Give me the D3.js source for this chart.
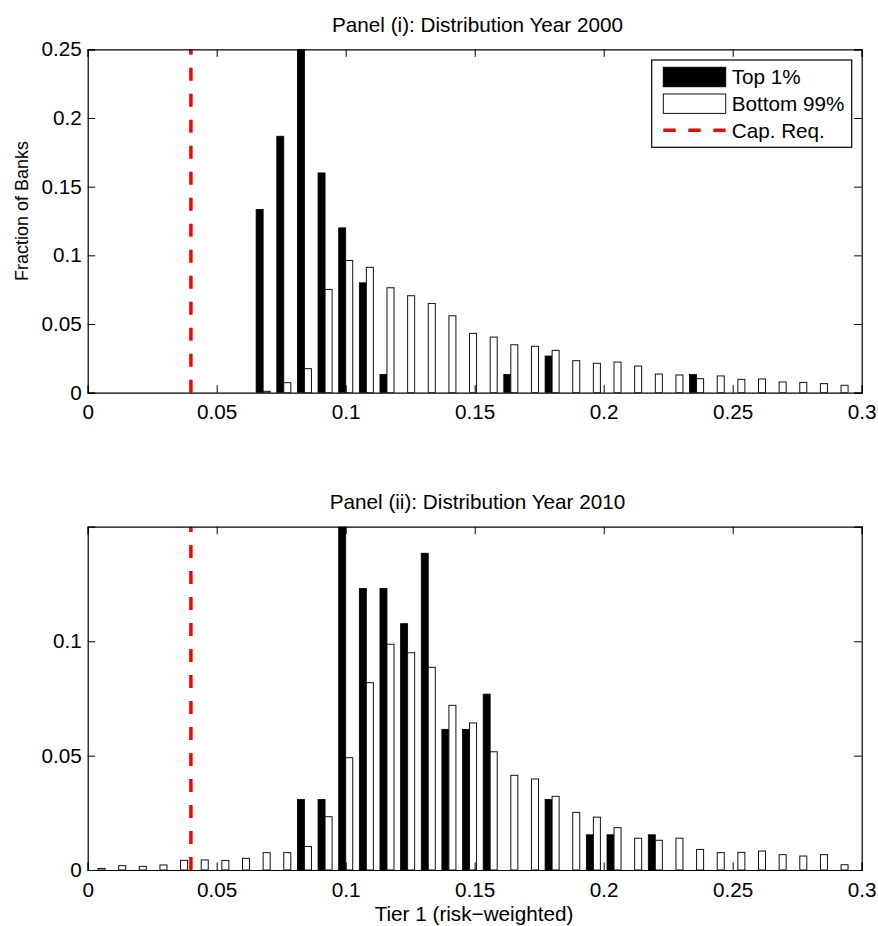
<!DOCTYPE html>
<html lang="en">
<head>
  <meta charset="UTF-8">
  <title>Tier 1 distribution</title>
  <script src="https://d3js.org/d3.v7.min.js"></script>
  <style>
    body { margin: 0; background: #fff; }
    text { font-family: "Liberation Sans", Arial, Helvetica, sans-serif; fill: #000; }
  </style>
</head>
<body>
  <svg id="chart" width="878" height="926"></svg>
  <script>
    // bin centres of the histogram (tier 1 ratio)
    var bins = [0.004, 0.012, 0.020, 0.028, 0.036, 0.044, 0.052, 0.060, 0.068, 0.076,
      0.084, 0.092, 0.100, 0.108, 0.116, 0.124, 0.132, 0.140, 0.148, 0.156,
      0.164, 0.172, 0.180, 0.188, 0.196, 0.204, 0.212, 0.220, 0.228, 0.236,
      0.244, 0.252, 0.260, 0.268, 0.276, 0.284, 0.292]

    var top2000 = [0, 0, 0, 0, 0, 0, 0, 0, 0.1333, 0.1867,
      0.2533, 0.16, 0.12, 0.08, 0.0133, 0, 0, 0, 0, 0,
      0.0133, 0, 0.0267, 0, 0, 0, 0, 0, 0, 0.0133,
      0, 0, 0, 0, 0, 0, 0]
    var bottom2000 = [0, 0, 0, 0, 0, 0, 0, 0, 0.001, 0.0073,
      0.0175, 0.0752, 0.0963, 0.0913, 0.0764, 0.0706, 0.0650, 0.0560, 0.0432, 0.0405,
      0.0349, 0.0338, 0.0308, 0.0233, 0.0214, 0.0223, 0.0194, 0.0136, 0.0129, 0.0102,
      0.0122, 0.0097, 0.0100, 0.0078, 0.0075, 0.0066, 0.0054]

    var top2010 = [0, 0, 0, 0, 0, 0, 0, 0, 0, 0,
      0.0308, 0.0308, 0.1692, 0.1231, 0.1231, 0.1077, 0.1385, 0.0615, 0.0615, 0.0769,
      0, 0, 0.0308, 0, 0.0154, 0.0154, 0, 0.0154, 0, 0,
      0, 0, 0, 0, 0, 0, 0]
    var bottom2010 = [0.0007, 0.0019, 0.0016, 0.0022, 0.0042, 0.0044, 0.0042, 0.0051, 0.0076, 0.0076,
      0.0103, 0.0233, 0.0491, 0.0819, 0.0987, 0.0950, 0.0886, 0.0720, 0.0643, 0.0517,
      0.0414, 0.0398, 0.0322, 0.0252, 0.0231, 0.0185, 0.0139, 0.0130, 0.0139, 0.0090,
      0.0076, 0.0077, 0.0083, 0.0067, 0.0061, 0.0067, 0.0023]

    var capReq = 0.04
    var xTicks = [0, 0.05, 0.1, 0.15, 0.2, 0.25, 0.3]
    var yTicks2000 = [0, 0.05, 0.1, 0.15, 0.2, 0.25]
    var yTicks2010 = [0, 0.05, 0.1]
    var legendLabels = ["Top 1%", "Bottom 99%", "Cap. Req."]

    var svg = d3.select("#chart")
    var left = 87.7, right = 861.7
    var binStep = 0.008, barFrac = 0.34
    var tickLen = 7.5
    var fontSize = "20.7px"

    var xScale = d3.scaleLinear().domain([0, 0.3]).range([left, right])

    function drawPanel(id, top, bottom, yMax, yTicks, topVals, bottomVals, title) {
      var yScale = d3.scaleLinear().domain([0, yMax]).range([bottom, top])
      var w = xScale(binStep * barFrac) - xScale(0)

      svg.append("clipPath").attr("id", "clip" + id)
        .append("rect")
        .attr("x", left).attr("y", top)
        .attr("width", right - left).attr("height", bottom - top)

      var g = svg.append("g").attr("clip-path", "url(#clip" + id + ")")

      // black bars, left of the bin centre
      g.selectAll(".topbar")
        .data(bins.map(function (b, i) { return [b, topVals[i]] }).filter(function (d) { return d[1] > 0 }))
        .enter()
        .append("rect")
        .attr("x", function (d) { return xScale(d[0]) - w })
        .attr("y", function (d) { return yScale(d[1]) })
        .attr("width", w)
        .attr("height", function (d) { return bottom - yScale(d[1]) })
        .style("fill", "#000")
        .style("stroke", "#000")
        .style("stroke-width", 0.8)

      // white bars, right of the bin centre
      g.selectAll(".bottombar")
        .data(bins.map(function (b, i) { return [b, bottomVals[i]] }).filter(function (d) { return d[1] > 0 }))
        .enter()
        .append("rect")
        .attr("x", function (d) { return xScale(d[0]) })
        .attr("y", function (d) { return yScale(d[1]) })
        .attr("width", w)
        .attr("height", function (d) { return bottom - yScale(d[1]) })
        .style("fill", "#fff")
        .style("stroke", "#111")
        .style("stroke-width", 1)

      // capital requirement line, drawn from y = 0 upwards
      g.append("line")
        .attr("x1", xScale(capReq)).attr("x2", xScale(capReq))
        .attr("y1", yScale(0)).attr("y2", yScale(yMax))
        .style("stroke", "#ff0000")
        .style("stroke-width", 3.5)
        .style("stroke-dasharray", "13,13")

      // box and inward ticks
      var axes = svg.append("g")
      axes.append("g")
        .attr("transform", "translate(0," + bottom + ")")
        .call(d3.axisBottom(xScale).tickValues(xTicks).tickSize(-tickLen).tickPadding(12).tickFormat(d3.format("~g")))
      axes.append("g")
        .attr("transform", "translate(0," + top + ")")
        .call(d3.axisTop(xScale).tickValues(xTicks).tickSize(-tickLen).tickFormat(""))
      axes.append("g")
        .attr("transform", "translate(" + left + ",0)")
        .call(d3.axisLeft(yScale).tickValues(yTicks).tickSize(-tickLen).tickPadding(6).tickFormat(d3.format("~g")))
      axes.append("g")
        .attr("transform", "translate(" + right + ",0)")
        .call(d3.axisRight(yScale).tickValues(yTicks).tickSize(-tickLen).tickFormat(""))

      axes.selectAll(".domain").style("stroke", "#000").style("stroke-width", 1.2)
      axes.selectAll(".tick line").style("stroke", "#000").style("stroke-width", 1)
      axes.selectAll(".tick text")
        .style("font-size", fontSize)
        .style("font-family", "'Liberation Sans', Arial, sans-serif")
        .style("fill", "#000")

      svg.append("text")
        .attr("x", 477.5)
        .attr("y", top - 17.5)
        .attr("text-anchor", "middle")
        .style("font-size", fontSize)
        .text(title)
    }

    drawPanel(1, 49.3, 392.7, 0.25, yTicks2000, top2000, bottom2000, "Panel (i): Distribution Year 2000")
    drawPanel(2, 526.7, 870, 0.1501, yTicks2010, top2010, bottom2010, "Panel (ii): Distribution Year 2010")

    // Y label
    svg.append("text")
      .attr("text-anchor", "middle")
      .attr("transform", "translate(28,211)rotate(-90)")
      .style("font-size", "18px")
      .text("Fraction of Banks")

    // X label
    svg.append("text")
      .attr("x", 474)
      .attr("y", 921)
      .attr("text-anchor", "middle")
      .style("font-size", fontSize)
      .text("Tier 1 (risk\u2212weighted)")

    // legend
    var lg = svg.append("g")
    lg.append("rect")
      .attr("x", 651.7).attr("y", 60)
      .attr("width", 200).attr("height", 87.3)
      .style("fill", "#fff").style("stroke", "#000").style("stroke-width", 1.2)

    var rowY = [77, 103.7, 130.3]
    lg.append("rect")
      .attr("x", 663.3).attr("y", rowY[0] - 9.7).attr("width", 62.4).attr("height", 19.4)
      .style("fill", "#000").style("stroke", "#000")
    lg.append("rect")
      .attr("x", 663.3).attr("y", rowY[1] - 9.7).attr("width", 62.4).attr("height", 19.4)
      .style("fill", "#fff").style("stroke", "#111").style("stroke-width", 1)
    lg.append("line")
      .attr("x1", 663.3).attr("x2", 725.7)
      .attr("y1", rowY[2]).attr("y2", rowY[2])
      .style("stroke", "#ff0000").style("stroke-width", 3.5)
      .style("stroke-dasharray", "12.4,12.6")

    lg.selectAll(".lgtext")
      .data(legendLabels)
      .enter()
      .append("text")
      .attr("x", 731.7)
      .attr("y", function (d, i) { return rowY[i] })
      .attr("dy", "0.36em")
      .style("font-size", fontSize)
      .text(function (d) { return d })
  </script>
</body>
</html>
